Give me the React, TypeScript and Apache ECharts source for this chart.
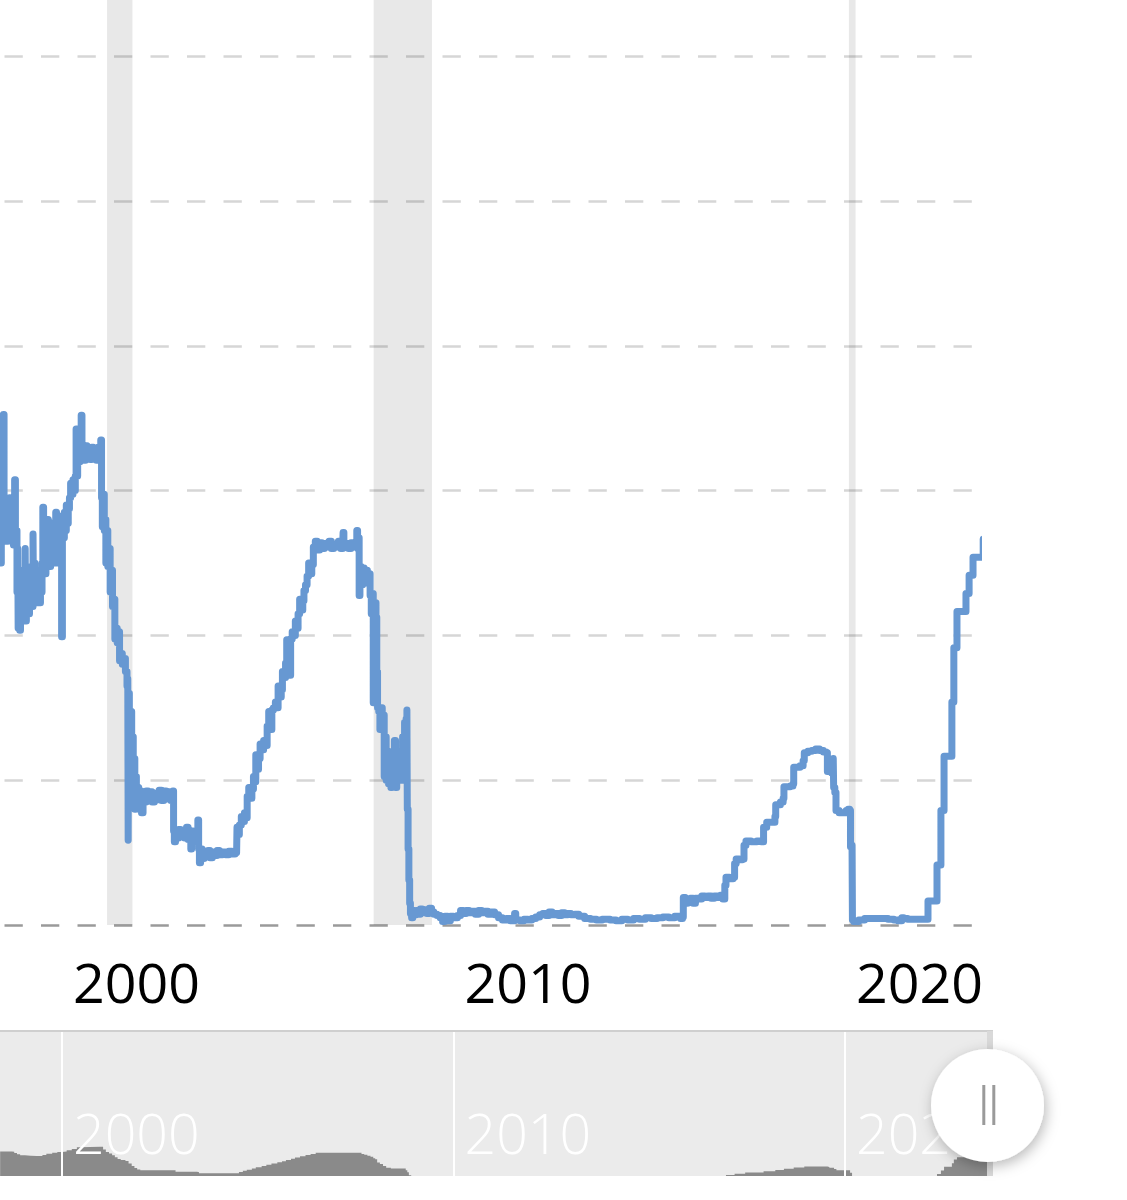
import React, { useEffect, useRef } from 'react';
import * as echarts from 'echarts';

// ---------- DATA (decimal years, effective federal funds rate %) ----------
const yearTicks = [2000, 2010, 2020];

const recessions: [number, number][] = [
  [2001.15, 2001.8],
  [2007.96, 2009.45],
  [2020.1, 2020.27],
];

const rates1998to2000: [number, number][] = [
  [1998.42, 5.5], [1998.43, 5.0], [1998.45, 5.8], [1998.47, 5.3], [1998.49, 5.6], [1998.5, 7.05], [1998.52, 5.3],
  [1998.54, 5.7], [1998.56, 5.4], [1998.58, 5.85], [1998.6, 5.3], [1998.62, 5.6], [1998.64, 5.35], [1998.66, 5.9],
  [1998.68, 5.4], [1998.7, 5.65], [1998.72, 5.3], [1998.74, 5.55], [1998.76, 5.25], [1998.79, 6.15], [1998.81, 5.3],
  [1998.83, 5.45], [1998.85, 4.6], [1998.87, 5.2], [1998.88, 4.1], [1998.9, 4.6], [1998.92, 4.07], [1998.94, 4.9],
  [1998.96, 4.3], [1998.98, 4.7], [1999.0, 4.2], [1999.02, 4.8], [1999.04, 4.3], [1999.06, 5.2], [1999.07, 4.2],
  [1999.09, 4.7], [1999.11, 4.4], [1999.13, 4.9], [1999.15, 4.3], [1999.17, 4.75], [1999.19, 4.5], [1999.21, 4.95],
  [1999.23, 4.4], [1999.26, 5.4], [1999.27, 4.6], [1999.29, 5.0], [1999.31, 4.5], [1999.33, 4.9], [1999.35, 4.45],
  [1999.37, 4.8], [1999.39, 4.5], [1999.41, 4.9], [1999.43, 4.45], [1999.45, 4.75], [1999.47, 4.6], [1999.49, 5.0],
  [1999.51, 5.77], [1999.53, 4.9], [1999.55, 5.3], [1999.57, 4.85], [1999.59, 5.45], [1999.61, 5.0], [1999.63, 5.6],
  [1999.65, 5.05], [1999.67, 5.35], [1999.69, 4.95], [1999.71, 5.4], [1999.73, 5.1], [1999.75, 5.55], [1999.77, 5.0],
  [1999.79, 5.3], [1999.81, 5.15], [1999.84, 5.7], [1999.86, 5.0], [1999.88, 5.45], [1999.9, 5.2], [1999.92, 5.65],
  [1999.94, 5.3], [1999.96, 5.5], [1999.99, 3.98], [2000.01, 5.45], [2000.04, 5.35], [2000.06, 5.7], [2000.08, 5.45],
  [2000.11, 5.8], [2000.13, 5.55], [2000.16, 5.75], [2000.19, 5.9], [2000.22, 6.1], [2000.25, 5.95], [2000.28, 6.15],
  [2000.31, 6.0], [2000.34, 6.2], [2000.36, 6.85], [2000.38, 6.2], [2000.4, 6.55], [2000.43, 6.4], [2000.46, 6.6],
  [2000.49, 7.04], [2000.51, 6.45], [2000.54, 6.6], [2000.57, 6.42], [2000.6, 6.62], [2000.64, 6.45], [2000.68, 6.58],
  [2000.72, 6.43], [2000.76, 6.6], [2000.8, 6.45], [2000.84, 6.55], [2000.88, 6.42], [2000.92, 6.6], [2000.96, 6.45],
  [2000.99, 6.7],
];

const rates2001to2004: [number, number][] = [
  [2001.01, 5.9], [2001.03, 5.5], [2001.06, 5.95], [2001.08, 5.45], [2001.1, 5.6], [2001.12, 5.0], [2001.15, 5.45],
  [2001.17, 4.95], [2001.2, 5.2], [2001.23, 4.6], [2001.26, 4.9], [2001.29, 4.4], [2001.32, 4.5], [2001.35, 3.95],
  [2001.38, 4.1], [2001.41, 3.9], [2001.44, 4.05], [2001.47, 3.65], [2001.5, 3.75], [2001.54, 3.6], [2001.58, 3.68],
  [2001.62, 3.5], [2001.66, 3.3], [2001.68, 3.4], [2001.69, 1.17], [2001.7, 3.2], [2001.72, 2.95], [2001.74, 2.7],
  [2001.76, 2.95], [2001.78, 2.5], [2001.8, 2.6], [2001.82, 2.1], [2001.84, 2.3], [2001.86, 1.6], [2001.88, 2.05],
  [2001.9, 1.75], [2001.93, 1.9], [2001.96, 1.6], [2001.99, 1.85], [2002.03, 1.55], [2002.07, 1.82], [2002.11, 1.7],
  [2002.15, 1.85], [2002.2, 1.72], [2002.25, 1.84], [2002.3, 1.7], [2002.36, 1.82], [2002.42, 1.73], [2002.48, 1.86],
  [2002.54, 1.72], [2002.6, 1.85], [2002.66, 1.74], [2002.72, 1.84], [2002.78, 1.72], [2002.83, 1.85], [2002.85, 1.3],
  [2002.87, 1.15], [2002.9, 1.3], [2002.94, 1.2], [2002.98, 1.32], [2003.03, 1.22], [2003.08, 1.3], [2003.13, 1.2],
  [2003.18, 1.35], [2003.22, 1.18], [2003.26, 1.3], [2003.29, 1.05], [2003.31, 1.3], [2003.35, 1.2], [2003.4, 1.28],
  [2003.44, 1.15], [2003.47, 1.45], [2003.49, 1.05], [2003.51, 0.86], [2003.54, 1.05], [2003.58, 0.92], [2003.63, 1.02],
  [2003.68, 0.95], [2003.73, 1.03], [2003.78, 0.93], [2003.84, 1.01], [2003.9, 0.96], [2003.96, 1.03], [2004.02, 0.97],
  [2004.1, 1.01], [2004.18, 0.97], [2004.26, 1.02], [2004.34, 0.98], [2004.42, 1.02], [2004.46, 1.0],
];

const rates2004to2008: [number, number][] = [
  [2004.47, 1.35], [2004.49, 1.25], [2004.53, 1.38], [2004.58, 1.5], [2004.62, 1.43], [2004.66, 1.55], [2004.7, 1.48],
  [2004.73, 1.78], [2004.77, 1.9], [2004.81, 1.75], [2004.85, 1.88], [2004.89, 2.05], [2004.92, 1.98], [2004.95, 2.35],
  [2004.98, 2.15], [2005.02, 2.3], [2005.06, 2.5], [2005.1, 2.42], [2005.15, 2.55], [2005.2, 2.48], [2005.24, 2.75],
  [2005.28, 2.95], [2005.32, 2.7], [2005.36, 2.97], [2005.4, 3.0], [2005.45, 3.08], [2005.49, 3.0], [2005.52, 3.3],
  [2005.56, 3.15], [2005.6, 3.25], [2005.63, 3.5], [2005.67, 3.42], [2005.71, 3.62], [2005.74, 3.94], [2005.78, 3.7],
  [2005.82, 3.45], [2005.84, 3.95], [2005.88, 4.05], [2005.92, 4.0], [2005.96, 4.2], [2006.0, 4.1], [2006.03, 4.3],
  [2006.07, 4.5], [2006.11, 4.35], [2006.15, 4.48], [2006.18, 4.62], [2006.22, 4.7], [2006.26, 4.82], [2006.3, 5.0],
  [2006.34, 4.85], [2006.38, 4.98], [2006.42, 5.22], [2006.47, 5.3], [2006.52, 5.18], [2006.58, 5.28], [2006.64, 5.2],
  [2006.7, 5.27], [2006.76, 5.22], [2006.82, 5.3], [2006.88, 5.2], [2006.94, 5.26], [2007.0, 5.22], [2007.06, 5.3],
  [2007.12, 5.2], [2007.17, 5.28], [2007.18, 5.42], [2007.2, 5.22], [2007.26, 5.27], [2007.32, 5.2], [2007.38, 5.28],
  [2007.44, 5.22], [2007.5, 5.26], [2007.53, 5.45], [2007.55, 5.2], [2007.57, 5.35], [2007.59, 4.55], [2007.61, 4.95],
  [2007.64, 4.7], [2007.68, 4.93], [2007.72, 4.75], [2007.76, 4.9], [2007.8, 4.72], [2007.84, 4.85], [2007.87, 4.55],
  [2007.9, 4.3], [2007.93, 4.58], [2007.95, 3.07], [2007.96, 4.2], [2007.99, 4.45], [2008.02, 4.25], [2008.04, 3.5],
  [2008.06, 3.0], [2008.09, 2.95], [2008.12, 2.7], [2008.15, 3.0], [2008.18, 2.75], [2008.21, 2.9], [2008.23, 2.05],
  [2008.26, 2.6], [2008.28, 2.0], [2008.31, 2.4], [2008.34, 1.95], [2008.37, 2.35], [2008.4, 1.9], [2008.43, 2.2],
  [2008.46, 1.95], [2008.49, 2.55], [2008.52, 1.9], [2008.55, 2.3], [2008.58, 2.0], [2008.61, 2.1], [2008.64, 2.4],
  [2008.67, 2.0], [2008.7, 2.6], [2008.73, 2.0], [2008.75, 2.8], [2008.77, 2.1], [2008.79, 2.85], [2008.81, 2.97],
  [2008.82, 1.6], [2008.84, 1.05], [2008.86, 0.62], [2008.88, 0.3], [2008.9, 0.16],
];

const rates2009to2019: [number, number][] = [
  [2008.93, 0.1], [2008.96, 0.2], [2009.0, 0.14], [2009.05, 0.2], [2009.1, 0.15], [2009.15, 0.22], [2009.2, 0.17],
  [2009.26, 0.21], [2009.32, 0.16], [2009.38, 0.23], [2009.44, 0.18], [2009.5, 0.15], [2009.58, 0.13], [2009.66, 0.1],
  [2009.72, 0.05], [2009.78, 0.12], [2009.85, 0.06], [2009.92, 0.12], [2010.0, 0.1], [2010.1, 0.13], [2010.18, 0.2],
  [2010.25, 0.16], [2010.32, 0.2], [2010.4, 0.17], [2010.48, 0.19], [2010.56, 0.15], [2010.64, 0.2], [2010.72, 0.17],
  [2010.8, 0.19], [2010.88, 0.15], [2010.96, 0.18], [2011.05, 0.14], [2011.15, 0.1], [2011.25, 0.07], [2011.35, 0.09],
  [2011.45, 0.06], [2011.56, 0.16], [2011.59, 0.07], [2011.7, 0.06], [2011.8, 0.08], [2011.9, 0.07], [2012.0, 0.09],
  [2012.1, 0.11], [2012.2, 0.14], [2012.28, 0.16], [2012.36, 0.13], [2012.44, 0.18], [2012.52, 0.14], [2012.6, 0.16],
  [2012.68, 0.13], [2012.76, 0.17], [2012.84, 0.14], [2012.92, 0.16], [2013.0, 0.14], [2013.1, 0.15], [2013.2, 0.12],
  [2013.35, 0.09], [2013.5, 0.08], [2013.65, 0.07], [2013.8, 0.08], [2014.0, 0.07], [2014.15, 0.06], [2014.3, 0.08],
  [2014.45, 0.07], [2014.6, 0.09], [2014.75, 0.08], [2014.9, 0.1], [2015.05, 0.09], [2015.2, 0.1], [2015.35, 0.11],
  [2015.5, 0.1], [2015.65, 0.12], [2015.8, 0.09], [2015.85, 0.11], [2015.87, 0.38], [2015.92, 0.3], [2015.98, 0.36],
  [2016.05, 0.37], [2016.12, 0.3], [2016.18, 0.37], [2016.26, 0.36], [2016.34, 0.4], [2016.42, 0.38], [2016.5, 0.4],
  [2016.58, 0.37], [2016.66, 0.4], [2016.74, 0.38], [2016.82, 0.41], [2016.88, 0.36], [2016.93, 0.55], [2016.96, 0.66],
  [2017.05, 0.64], [2017.14, 0.66], [2017.18, 0.85], [2017.22, 0.91], [2017.3, 0.9], [2017.38, 0.91], [2017.42, 1.1],
  [2017.47, 1.16], [2017.6, 1.15], [2017.75, 1.16], [2017.86, 1.15], [2017.92, 1.35], [2018.0, 1.42], [2018.12, 1.42],
  [2018.21, 1.5], [2018.23, 1.66], [2018.35, 1.7], [2018.42, 1.75], [2018.44, 1.91], [2018.6, 1.92], [2018.67, 1.95],
  [2018.69, 2.18], [2018.85, 2.2], [2018.93, 2.27], [2018.96, 2.38], [2019.05, 2.4], [2019.15, 2.41], [2019.25, 2.43],
  [2019.35, 2.41], [2019.45, 2.39], [2019.52, 2.38], [2019.55, 2.12], [2019.6, 2.13], [2019.66, 2.1], [2019.7, 2.3],
  [2019.71, 1.9], [2019.74, 1.83], [2019.77, 1.58], [2019.85, 1.55], [2019.95, 1.55], [2020.03, 1.58], [2020.08, 1.6],
  [2020.12, 1.58],
];

const rates2020to2023: [number, number][] = [
  [2020.14, 1.08], [2020.18, 1.1], [2020.19, 0.07], [2020.22, 0.05], [2020.35, 0.07], [2020.5, 0.09], [2020.65, 0.09],
  [2020.8, 0.09], [2020.95, 0.09], [2021.1, 0.08], [2021.25, 0.07], [2021.35, 0.06], [2021.45, 0.1], [2021.5, 0.09],
  [2021.6, 0.08], [2021.75, 0.08], [2021.9, 0.08], [2022.05, 0.08], [2022.12, 0.33], [2022.35, 0.83], [2022.45, 1.58],
  [2022.53, 2.33], [2022.73, 3.08], [2022.78, 3.83], [2022.86, 4.33], [2023.09, 4.58], [2023.17, 4.83], [2023.27, 5.08],
  [2023.53, 5.33],
];

// smoothed series drawn as the navigator's shadow
const shadowRates: [number, number][] = [
  [1998.42, 5.5], [1998.72, 5.45], [1998.78, 5.2], [1998.85, 4.9], [1998.93, 4.7], [1999.05, 4.6], [1999.2, 4.55],
  [1999.35, 4.55], [1999.5, 4.75], [1999.6, 5.05], [1999.75, 5.25], [1999.88, 5.4], [2000.0, 5.5], [2000.12, 5.75],
  [2000.25, 6.0], [2000.38, 6.35], [2000.45, 6.45], [2000.98, 6.45], [2001.05, 5.9], [2001.12, 5.4], [2001.2, 5.1],
  [2001.28, 4.7], [2001.35, 4.3], [2001.42, 3.95], [2001.5, 3.75], [2001.62, 3.55], [2001.7, 3.0], [2001.78, 2.5],
  [2001.85, 2.1], [2001.92, 1.8], [2002.0, 1.6], [2002.85, 1.6], [2002.9, 1.3], [2003.45, 1.2], [2003.5, 1.0],
  [2004.47, 1.0], [2004.52, 1.25], [2004.62, 1.5], [2004.72, 1.75], [2004.85, 2.0], [2004.95, 2.25], [2005.1, 2.5],
  [2005.22, 2.75], [2005.35, 3.0], [2005.5, 3.25], [2005.62, 3.5], [2005.72, 3.75], [2005.85, 4.0], [2005.95, 4.25],
  [2006.08, 4.5], [2006.22, 4.75], [2006.35, 5.0], [2006.48, 5.25], [2007.6, 5.25], [2007.65, 5.0], [2007.72, 4.8],
  [2007.8, 4.6], [2007.88, 4.4], [2007.95, 4.1], [2008.0, 3.9], [2008.05, 3.2], [2008.12, 2.9], [2008.2, 2.5],
  [2008.28, 2.15], [2008.4, 2.0], [2008.7, 2.0], [2008.78, 1.6], [2008.82, 1.2], [2008.86, 0.6], [2008.92, 0.2],
  [2009.5, 0.16], [2010.5, 0.18], [2011.5, 0.08], [2012.5, 0.15], [2013.5, 0.1], [2015.85, 0.12], [2015.88, 0.37],
  [2016.93, 0.4], [2016.96, 0.66], [2017.18, 0.9], [2017.45, 1.15], [2017.92, 1.4], [2018.22, 1.67], [2018.44, 1.91],
  [2018.69, 2.18], [2018.96, 2.4], [2019.55, 2.3], [2019.6, 2.13], [2019.72, 1.9], [2019.78, 1.6], [2020.13, 1.1],
  [2020.18, 0.06], [2022.12, 0.33], [2022.35, 0.83], [2022.45, 1.58], [2022.53, 2.33], [2022.73, 3.08], [2022.78, 3.83],
  [2022.86, 4.33], [2023.09, 4.58], [2023.17, 4.83], [2023.27, 5.08], [2023.53, 5.33], [2023.65, 5.33],
];

// ---------- LAYOUT ----------
const PX_PER_YEAR = 39.15;
const X_2000 = 62;
const MAIN_WIDTH = 978;
const NAV_WIDTH = 991;
const AXIS_MIN = 2000 - X_2000 / PX_PER_YEAR;
const MAIN_MAX = AXIS_MIN + MAIN_WIDTH / PX_PER_YEAR;
const NAV_MAX = AXIS_MIN + NAV_WIDTH / PX_PER_YEAR;
const MAIN_HEIGHT = 925;
const PX_PER_PCT = 72.4;
const NAV_TOP = 1031;
const NAV_BOTTOM = 1176;
const NAV_MIN = 0.44;
const NAV_PX_PER_PCT = 4.85;

const mainRates = [
  ...rates1998to2000,
  ...rates2001to2004,
  ...rates2004to2008,
  ...rates2009to2019,
  ...rates2020to2023,
];

const yearLabel = (v: number) => String(Math.round(v));

export default function App() {
  const ref = useRef<HTMLDivElement>(null);

  useEffect(() => {
    if (!ref.current) return;
    const chart = echarts.init(ref.current, null, { renderer: 'svg' });
    const option: any = {
      animation: false,
      backgroundColor: '#ffffff',
      grid: [
        { left: 0, top: 0, width: MAIN_WIDTH, height: MAIN_HEIGHT, containLabel: false },
        {
          left: 0,
          top: NAV_TOP,
          width: NAV_WIDTH,
          height: NAV_BOTTOM - NAV_TOP,
          show: true,
          backgroundColor: '#ebebeb',
          borderWidth: 0,
        },
      ],
      xAxis: [
        {
          type: 'value',
          gridIndex: 0,
          min: AXIS_MIN,
          max: MAIN_MAX,
          axisLine: { show: false },
          axisTick: { show: false, customValues: yearTicks },
          splitLine: { show: false },
          axisLabel: {
            show: true,
            customValues: yearTicks,
            formatter: yearLabel,
            color: '#000',
            fontFamily: 'Open Sans',
            fontSize: 55.5,
            align: 'left',
            padding: [0, 0, 0, 11],
            margin: 28,
          },
        },
        {
          type: 'value',
          gridIndex: 1,
          min: AXIS_MIN,
          max: NAV_MAX,
          z: 5,
          axisLine: { show: false },
          axisTick: { show: false, customValues: yearTicks },
          splitLine: { show: false },
          axisLabel: {
            show: true,
            inside: true,
            customValues: yearTicks,
            formatter: yearLabel,
            color: '#ffffff',
            fontFamily: 'Open Sans',
            fontWeight: 300,
            fontSize: 55.5,
            align: 'left',
            padding: [0, 0, 0, 11],
            margin: 16,
          },
        },
      ],
      yAxis: [
        {
          type: 'value',
          gridIndex: 0,
          min: 0,
          max: MAIN_HEIGHT / PX_PER_PCT,
          interval: 2,
          axisLine: { show: false },
          axisTick: { show: false },
          axisLabel: { show: false },
          splitLine: {
            show: true,
            showMinLine: true,
            showMaxLine: false,
            lineStyle: {
              color: ['#9a9a9a', '#d6d6d6', '#d6d6d6', '#d6d6d6', '#d6d6d6', '#d6d6d6', '#d6d6d6', '#d6d6d6'],
              width: 2.6,
              type: [18.3, 18.2],
              dashOffset: 31.5,
            },
          },
        },
        {
          type: 'value',
          gridIndex: 1,
          min: NAV_MIN,
          max: NAV_MIN + (NAV_BOTTOM - NAV_TOP) / NAV_PX_PER_PCT,
          show: false,
          splitLine: { show: false },
        },
      ],
      series: [
        {
          name: 'recessions',
          type: 'line',
          xAxisIndex: 0,
          yAxisIndex: 0,
          data: [],
          z: 1,
          silent: true,
          markArea: {
            silent: true,
            itemStyle: { color: 'rgba(0,0,0,0.09)' },
            data: recessions.map(([s, e]) => [{ xAxis: s }, { xAxis: e }]),
          },
        },
        {
          name: 'Fed Funds Rate',
          type: 'line',
          xAxisIndex: 0,
          yAxisIndex: 0,
          data: mainRates,
          step: 'end',
          clip: false,
          showSymbol: false,
          symbol: 'none',
          z: 3,
          lineStyle: { color: '#6798d2', width: 7, cap: 'round', join: 'round' },
          emphasis: { disabled: true },
        },
        {
          name: 'navigator',
          type: 'line',
          xAxisIndex: 1,
          yAxisIndex: 1,
          data: shadowRates,
          step: 'end',
          showSymbol: false,
          symbol: 'none',
          z: 2,
          lineStyle: { width: 0, color: '#8a8a8a' },
          areaStyle: { color: '#8a8a8a', opacity: 1 },
          emphasis: { disabled: true },
        },
        {
          name: 'navigatorTicks',
          type: 'line',
          xAxisIndex: 1,
          yAxisIndex: 1,
          data: [],
          z: 4,
          silent: true,
          markLine: {
            silent: true,
            symbol: 'none',
            label: { show: false },
            lineStyle: { color: '#ffffff', width: 2, type: 'solid' },
            data: yearTicks.map((y) => ({ xAxis: y })),
          },
        },
      ],
      graphic: [
        {
          type: 'line',
          z: 50,
          shape: { x1: 0, y1: NAV_TOP, x2: 993, y2: NAV_TOP },
          style: { stroke: '#cfcfcf', lineWidth: 2 },
        },
        {
          type: 'rect',
          z: 50,
          shape: { x: 987, y: NAV_TOP, width: 6, height: NAV_BOTTOM - NAV_TOP },
          style: { fill: '#d9d9d9' },
        },
        {
          type: 'circle',
          z: 100,
          shape: { cx: 987.5, cy: 1105.5, r: 56.5 },
          style: {
            fill: '#ffffff',
            shadowBlur: 14,
            shadowColor: 'rgba(0,0,0,0.28)',
            shadowOffsetX: 2,
            shadowOffsetY: 4,
          },
        },
        {
          type: 'rect',
          z: 101,
          shape: { x: 982.3, y: 1085, width: 3, height: 40 },
          style: { fill: '#9a9a9a' },
        },
        {
          type: 'rect',
          z: 101,
          shape: { x: 992.3, y: 1085, width: 3, height: 40 },
          style: { fill: '#9a9a9a' },
        },
      ],
    };
    chart.setOption(option);
    return () => chart.dispose();
  }, []);

  return (
    <div
      ref={ref}
      style={{ position: 'fixed', left: 0, top: 0, width: 1127, height: 1200, background: '#ffffff' }}
    />
  );
}
